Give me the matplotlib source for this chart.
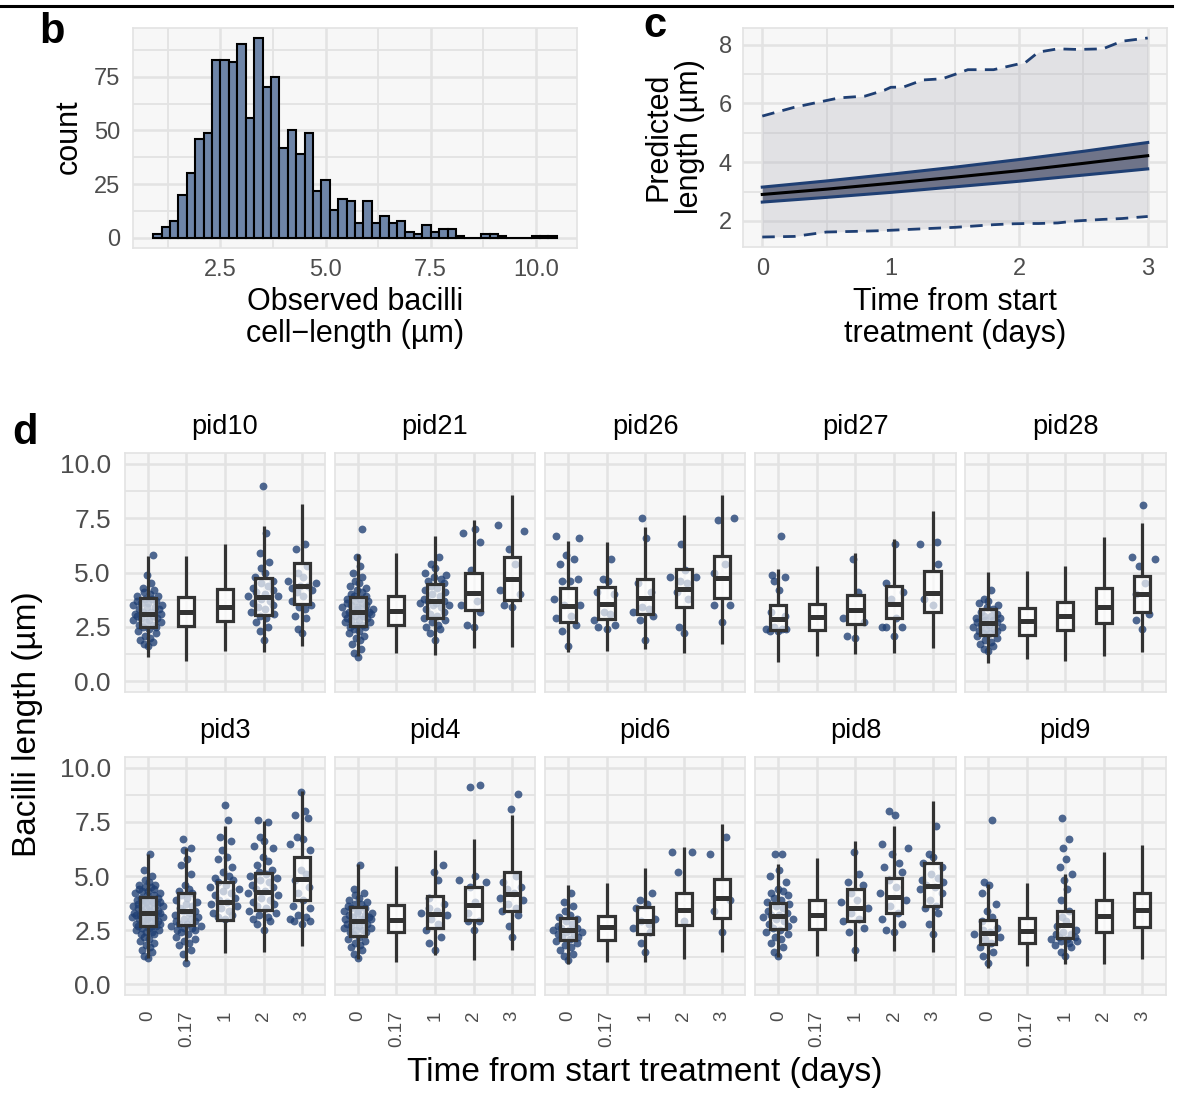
import numpy as np
import matplotlib
matplotlib.use("Agg")
import matplotlib.pyplot as plt
from matplotlib.lines import Line2D
from matplotlib.ticker import FixedLocator

plt.rcParams['font.family'] = ['Liberation Sans', 'DejaVu Sans']

# ---------------- panel b: histogram ----------------
hist_bin_start = 0.9
hist_bin_width = 0.2
hist_counts = [2, 5, 8, 20, 30, 46, 49, 83, 83, 82, 90, 56, 93, 70, 75, 42, 50, 39, 49, 22,
               27, 13, 18, 17, 7, 17, 7, 10, 7, 8, 3, 2, 6, 3, 4, 4, 1, 0, 0, 2,
               2, 1, 0, 0, 0, 1, 1, 1]

# ---------------- panel c: model prediction ----------------
time_fit = [0, 0.5, 1.0, 1.5, 2.0, 2.5, 3.0]
fit_mean = [2.90, 3.08, 3.28, 3.49, 3.71, 3.96, 4.22]
fit_ci_lo = [2.64, 2.80, 2.97, 3.16, 3.35, 3.56, 3.77]
fit_ci_hi = [3.15, 3.36, 3.59, 3.83, 4.09, 4.37, 4.67]
time_pi = [0, 0.25, 0.5, 0.6, 0.8, 0.95, 1.0, 1.1, 1.25, 1.4, 1.5, 1.6, 1.8, 1.95, 2.05,
           2.15, 2.3, 2.45, 2.65, 2.8, 3.0]
pi_hi = [5.57, 5.87, 6.10, 6.19, 6.25, 6.45, 6.55, 6.56, 6.80, 6.84, 6.99, 7.15, 7.15, 7.30,
         7.40, 7.75, 7.86, 7.84, 7.86, 8.12, 8.23]
pi_lo = [1.45, 1.47, 1.62, 1.63, 1.65, 1.67, 1.68, 1.70, 1.73, 1.76, 1.78, 1.81, 1.87, 1.90,
         1.91, 1.91, 1.93, 2.00, 2.05, 2.08, 2.15]

# ---------------- panel d: per-patient boxplots ----------------
time_labels = ["0", "0.17", "1", "2", "3"]
row1_pids = ["pid10", "pid21", "pid26", "pid27", "pid28"]
row2_pids = ["pid3", "pid4", "pid6", "pid8", "pid9"]

# (lower whisker, q1, median, q3, upper whisker) per time point
box_pid10 = [(1.09, 2.49, 3.10, 3.81, 5.78), (0.93, 2.52, 3.18, 3.87, 5.75), (1.39, 2.75, 3.41, 4.22, 6.31),
             (1.36, 3.06, 3.88, 4.76, 7.16), (1.62, 3.56, 4.39, 5.44, 8.17)]
box_pid21 = [(1.15, 2.54, 3.20, 3.88, 5.86), (1.30, 2.57, 3.23, 3.94, 5.90), (1.19, 2.92, 3.68, 4.45, 6.67),
             (1.54, 3.27, 4.04, 4.98, 7.40), (1.59, 3.73, 4.71, 5.70, 8.58)]
box_pid26 = [(1.36, 2.72, 3.46, 4.30, 6.44), (1.39, 2.84, 3.53, 4.33, 6.39), (1.47, 3.10, 3.84, 4.72, 7.08),
             (1.30, 3.42, 4.22, 5.15, 7.63), (1.70, 3.81, 4.76, 5.75, 8.58)]
box_pid27 = [(0.86, 2.34, 2.84, 3.49, 5.18), (1.16, 2.34, 2.95, 3.56, 5.29), (1.24, 2.61, 3.26, 3.96, 5.90),
             (1.31, 2.89, 3.56, 4.37, 6.56), (1.54, 3.20, 4.04, 5.09, 7.84)]
box_pid28 = [(0.82, 2.11, 2.69, 3.33, 5.02), (1.02, 2.14, 2.75, 3.38, 5.07), (0.94, 2.36, 3.00, 3.62, 5.30),
             (1.15, 2.69, 3.43, 4.28, 6.62), (1.35, 3.18, 3.99, 4.86, 7.28)]
box_pid3 = [(1.21, 2.67, 3.31, 4.03, 6.03), (1.09, 2.73, 3.36, 4.20, 6.30), (1.43, 2.96, 3.82, 4.72, 7.30),
            (1.47, 3.44, 4.28, 5.15, 7.56), (1.75, 3.90, 4.85, 5.87, 8.91)]
box_pid4 = [(1.17, 2.24, 2.93, 3.59, 5.54), (1.01, 2.39, 2.96, 3.67, 5.46), (1.37, 2.58, 3.24, 4.08, 6.20),
            (1.14, 2.96, 3.67, 4.49, 6.69), (1.60, 3.39, 4.16, 5.18, 7.81)]
box_pid6 = [(0.94, 2.04, 2.50, 3.08, 4.59), (1.01, 2.06, 2.62, 3.16, 4.69), (1.01, 2.32, 2.93, 3.59, 5.35),
            (1.17, 2.75, 3.44, 4.20, 6.33), (1.47, 3.08, 3.97, 4.88, 7.41)]
box_pid8 = [(1.24, 2.53, 3.16, 3.77, 5.57), (1.32, 2.55, 3.19, 3.88, 5.84), (1.09, 2.90, 3.54, 4.42, 6.61),
            (1.52, 3.27, 4.03, 4.92, 7.33), (1.47, 3.62, 4.54, 5.62, 8.45)]
box_pid9 = [(0.76, 1.84, 2.37, 2.97, 4.63), (0.85, 1.89, 2.47, 3.08, 4.69), (0.93, 2.14, 2.75, 3.37, 5.07),
            (0.93, 2.42, 3.13, 3.91, 6.10), (1.18, 2.64, 3.45, 4.21, 6.45)]

# observed bacilli lengths per time point
pts_pid10 = [
    [5.8, 4.9, 4.5, 4.3, 4.2, 4.1, 4.0, 3.9, 3.9, 3.8, 3.8, 3.7, 3.7, 3.6, 3.6, 3.5, 3.5, 3.4, 3.4, 3.3,
     3.3, 3.2, 3.2, 3.1, 3.1, 3.1, 3.0, 3.0, 2.9, 2.9, 2.8, 2.8, 2.7, 2.7, 2.6, 2.6, 2.5, 2.5, 2.4, 2.3,
     2.2, 2.1, 2.0, 1.9, 1.8, 1.7, 1.6],
    [], [],
    [9.0, 6.8, 5.9, 5.5, 5.2, 5.0, 4.8, 4.6, 4.5, 4.4, 4.3, 4.2, 4.1, 4.0, 3.9, 3.9, 3.8, 3.7, 3.6, 3.5,
     3.4, 3.3, 3.2, 3.1, 3.0, 2.9, 2.7, 2.5, 2.3, 1.9],
    [6.3, 6.1, 5.3, 5.0, 4.8, 4.6, 4.5, 4.4, 4.4, 4.3, 4.2, 4.1, 3.9, 3.7, 3.5, 3.4, 3.3, 3.0, 2.9, 2.4, 2.2]]
pts_pid21 = [
    [7.0, 5.7, 5.3, 5.0, 4.8, 4.6, 4.5, 4.4, 4.3, 4.2, 4.1, 4.0, 3.9, 3.9, 3.8, 3.8, 3.7, 3.7, 3.6, 3.6,
     3.5, 3.5, 3.4, 3.4, 3.3, 3.3, 3.3, 3.2, 3.2, 3.2, 3.1, 3.1, 3.1, 3.0, 3.0, 2.9, 2.9, 2.8, 2.8, 2.7,
     2.7, 2.6, 2.6, 2.5, 2.5, 2.4, 2.3, 2.2, 2.1, 2.0, 1.9, 1.7, 1.5, 1.3, 1.1],
    [],
    [5.7, 5.4, 5.2, 5.0, 4.9, 4.8, 4.7, 4.6, 4.5, 4.4, 4.3, 4.2, 4.1, 4.0, 3.9, 3.8, 3.7, 3.7, 3.6, 3.6,
     3.5, 3.5, 3.4, 3.3, 3.2, 3.1, 3.0, 2.9, 2.8, 2.7, 2.6, 2.5, 2.4, 2.2, 1.9],
    [7.0, 6.8, 6.4, 5.1, 3.7, 3.5, 3.2, 2.6, 2.5],
    [7.2, 6.9, 6.1, 5.4, 4.2, 4.0, 3.5, 3.4]]
pts_pid26 = [
    [6.7, 6.6, 5.8, 5.6, 5.4, 4.7, 4.6, 4.6, 3.8, 3.5, 3.5, 3.0, 2.9, 2.6, 2.3, 1.6],
    [5.6, 4.7, 4.6, 4.1, 4.0, 3.2, 3.1, 2.8, 2.6, 2.5, 2.4],
    [7.5, 6.6, 4.5, 4.1, 3.4, 3.3, 3.2, 3.0, 2.8, 1.9],
    [6.3, 5.1, 4.8, 4.8, 4.6, 4.5, 4.1, 3.8, 2.5, 2.2],
    [7.5, 7.4, 5.4, 5.0, 3.5, 3.5, 2.7]]
pts_pid27 = [
    [6.7, 4.9, 4.8, 4.6, 4.2, 3.2, 3.0, 2.5, 2.4, 2.4, 2.4, 2.3, 2.3],
    [],
    [5.6, 4.1, 2.9, 2.7, 2.1, 2.0],
    [6.3, 4.5, 4.1, 3.8, 2.9, 2.5, 2.5, 2.5, 2.1],
    [6.4, 6.3, 5.4, 3.8, 3.5]]
pts_pid28 = [
    [4.2, 3.8, 3.7, 3.6, 3.5, 3.4, 3.3, 3.2, 3.1, 3.0, 3.0, 2.9, 2.9, 2.8, 2.8, 2.7, 2.7, 2.6, 2.6, 2.5,
     2.5, 2.4, 2.4, 2.3, 2.3, 2.2, 2.2, 2.1, 2.0, 1.9, 1.8, 1.7, 1.6, 1.5, 1.4],
    [], [], [],
    [8.1, 5.7, 5.6, 5.3, 4.5, 4.0, 3.1, 2.8, 2.4]]
pts_pid3 = [
    [6.0, 5.3, 5.0, 4.8, 4.7, 4.6, 4.6, 4.5, 4.5, 4.4, 4.4, 4.3, 4.3, 4.2, 4.2, 4.1, 4.1, 4.0, 4.0, 3.9,
     3.9, 3.9, 3.8, 3.8, 3.8, 3.7, 3.7, 3.7, 3.6, 3.6, 3.6, 3.5, 3.5, 3.5, 3.4, 3.4, 3.4, 3.3, 3.3, 3.3,
     3.3, 3.2, 3.2, 3.2, 3.1, 3.1, 3.1, 3.0, 3.0, 3.0, 2.9, 2.9, 2.9, 2.8, 2.8, 2.8, 2.7, 2.7, 2.7, 2.6,
     2.6, 2.5, 2.5, 2.4, 2.4, 2.3, 2.3, 2.2, 2.1, 2.0, 1.9, 1.8, 1.7, 1.6, 1.5, 1.3, 1.2],
    [6.7, 6.3, 6.2, 5.8, 5.5, 5.1, 4.6, 4.4, 4.3, 4.2, 4.1, 4.0, 3.9, 3.8, 3.7, 3.6, 3.5, 3.4, 3.4, 3.3,
     3.2, 3.1, 3.0, 3.0, 2.9, 2.9, 2.8, 2.8, 2.7, 2.7, 2.6, 2.6, 2.5, 2.5, 2.4, 2.3, 2.2, 2.1, 2.0, 1.9,
     1.8, 1.6, 1.4, 1.0],
    [8.3, 7.6, 6.8, 6.6, 6.2, 5.9, 5.8, 5.4, 5.2, 5.0, 4.9, 4.8, 4.7, 4.6, 4.5, 4.4, 4.3, 4.2, 4.1, 4.0,
     3.9, 3.8, 3.7, 3.6, 3.5, 3.4, 3.3, 3.2, 3.1, 3.0],
    [7.6, 7.5, 6.8, 6.6, 6.4, 6.3, 5.9, 5.7, 5.5, 5.3, 5.2, 5.1, 5.0, 4.9, 4.8, 4.7, 4.6, 4.5, 4.4, 4.3,
     4.2, 4.1, 4.0, 3.9, 3.8, 3.7, 3.6, 3.5, 3.4, 3.3, 3.2, 3.1, 3.0, 2.9, 2.8, 2.5],
    [8.9, 8.0, 7.8, 7.7, 6.8, 6.7, 6.5, 6.2, 5.3, 5.1, 4.8, 4.5, 4.2, 3.9, 3.6, 3.5, 3.2, 3.1, 3.0, 2.9,
     2.9, 2.8]]
pts_pid4 = [
    [5.5, 4.4, 4.2, 4.1, 4.0, 3.9, 3.8, 3.7, 3.7, 3.6, 3.5, 3.5, 3.4, 3.4, 3.3, 3.3, 3.2, 3.2, 3.1, 3.1,
     3.0, 3.0, 3.0, 2.9, 2.9, 2.8, 2.8, 2.7, 2.7, 2.6, 2.6, 2.5, 2.5, 2.4, 2.4, 2.3, 2.2, 2.1, 2.0, 1.9,
     1.8, 1.7, 1.6, 1.4, 1.2],
    [],
    [5.5, 5.2, 4.8, 4.0, 3.7, 3.5, 3.4, 3.3, 3.2, 3.0, 2.8, 2.5, 2.2, 1.9, 1.6],
    [9.2, 9.1, 5.0, 4.8, 4.7, 4.5, 3.8, 3.3, 2.9, 2.9, 2.5],
    [8.8, 8.1, 5.0, 4.7, 4.5, 4.4, 4.2, 4.0, 3.9, 3.7, 3.5, 3.4, 3.2, 2.7, 2.2]]
pts_pid6 = [
    [4.2, 3.8, 3.6, 3.4, 3.2, 3.1, 3.0, 2.9, 2.8, 2.7, 2.6, 2.6, 2.5, 2.5, 2.4, 2.4, 2.3, 2.3, 2.2, 2.2,
     2.1, 2.0, 1.9, 1.8, 1.7, 1.6, 1.4, 1.3, 1.1],
    [],
    [4.2, 3.9, 3.7, 3.5, 3.0, 2.9, 2.8, 2.6, 2.4, 1.9, 1.5],
    [6.1, 6.1, 5.2, 2.9],
    [6.8, 6.0, 3.9, 3.4, 2.4]]
pts_pid8 = [
    [6.0, 6.0, 5.3, 5.0, 4.7, 4.4, 4.3, 4.2, 4.1, 4.0, 3.9, 3.8, 3.7, 3.6, 3.5, 3.4, 3.3, 3.2, 3.2, 3.1,
     3.0, 3.0, 2.9, 2.8, 2.7, 2.6, 2.5, 2.4, 2.3, 2.2, 2.1, 1.9, 1.7, 1.5, 1.3],
    [],
    [6.1, 5.1, 4.7, 4.6, 4.2, 3.9, 3.8, 3.5, 3.3, 3.0, 2.9, 2.6, 2.4, 1.6],
    [8.0, 7.8, 6.5, 6.3, 6.0, 5.6, 5.4, 5.2, 4.8, 4.5, 4.2, 3.9, 3.6, 3.3, 3.0, 2.8, 2.5, 2.4],
    [7.3, 6.0, 5.9, 5.6, 5.4, 5.1, 4.9, 4.8, 4.7, 4.6, 4.5, 4.4, 4.2, 3.9, 3.6, 3.5, 3.3, 2.8, 2.3]]
pts_pid9 = [
    [7.6, 4.7, 4.6, 4.2, 3.7, 3.4, 3.1, 2.9, 2.6, 2.5, 2.4, 2.3, 2.2, 2.1, 1.9, 1.7, 1.5, 1.3, 1.0],
    [],
    [7.7, 6.7, 6.3, 5.8, 5.4, 5.1, 4.8, 4.4, 3.9, 3.4, 3.1, 2.9, 2.7, 2.5, 2.4, 2.3, 2.3, 2.2, 2.2, 2.1,
     2.1, 2.0, 2.0, 1.9, 1.8, 1.7, 1.5, 1.3],
    [], []]

boxes = {"pid10": box_pid10, "pid21": box_pid21, "pid26": box_pid26, "pid27": box_pid27,
         "pid28": box_pid28, "pid3": box_pid3, "pid4": box_pid4, "pid6": box_pid6,
         "pid8": box_pid8, "pid9": box_pid9}
points = {"pid10": pts_pid10, "pid21": pts_pid21, "pid26": pts_pid26, "pid27": pts_pid27,
          "pid28": pts_pid28, "pid3": pts_pid3, "pid4": pts_pid4, "pid6": pts_pid6,
          "pid8": pts_pid8, "pid9": pts_pid9}

# ---------------- styling ----------------
W, H = 1179, 1093
fig = plt.figure(figsize=(W / 100, H / 100), dpi=100)
PANEL_BG = '#F7F7F7'
GRID = '#E3E3E3'
TICK_C = '#4D4D4D'
NAVY = '#1F3F73'


def add_ax(l, t, r, b):
    return fig.add_axes([l / W, 1 - b / H, (r - l) / W, (b - t) / H])


def style(ax):
    ax.set_facecolor(PANEL_BG)
    ax.grid(which='major', color=GRID, lw=1.8)
    ax.grid(which='minor', color=GRID, lw=1.3)
    ax.set_axisbelow(True)
    for s in ax.spines.values():
        s.set_color(GRID)
        s.set_linewidth(1.2)
    ax.tick_params(which='both', length=0, colors=TICK_C)


# top rule
fig.add_artist(Line2D([0, 1172 / W], [1 - 5.5 / H] * 2, color='black', lw=2.2))

# ---- panel b ----
axb = add_ax(133, 28, 577, 248)
style(axb)
edges = hist_bin_start + hist_bin_width * np.arange(len(hist_counts) + 1)
axb.bar(edges[:-1], hist_counts, width=hist_bin_width, align='edge',
        color='#6E85A8', edgecolor='black', linewidth=1.5, zorder=2)
axb.set_xlim(0.42, 10.98)
axb.set_ylim(-4.65, 97.65)
axb.xaxis.set_major_locator(FixedLocator([2.5, 5.0, 7.5, 10.0]))
axb.xaxis.set_minor_locator(FixedLocator([1.25, 3.75, 6.25, 8.75]))
axb.yaxis.set_major_locator(FixedLocator([0, 25, 50, 75]))
axb.yaxis.set_minor_locator(FixedLocator([12.5, 37.5, 62.5, 87.5]))
axb.set_xticklabels(["2.5", "5.0", "7.5", "10.0"])
axb.set_yticklabels(["0", "25", "50", "75"])
axb.tick_params(axis='both', labelsize=17)
axb.tick_params(axis='x', pad=8)
axb.tick_params(axis='y', pad=9)

fig.text(69 / W, 1 - 137 / H, "count", rotation=90, ha='center', va='center', fontsize=22)
fig.text(355 / W, 1 - 318 / H, "Observed bacilli\ncell\u2212length (\u00b5m)", ha='center',
         va='center', fontsize=22, linespacing=1.08)
fig.text(52 / W, 1 - 43 / H, "b", fontsize=30, fontweight='bold', ha='center', va='baseline')

# ---- panel c ----
axc = add_ax(743, 28, 1167, 247)
style(axc)
axc.fill_between(time_pi, pi_lo, pi_hi, color='#B4B4BE', alpha=0.32, lw=0, zorder=2)
axc.plot(time_pi, pi_hi, color=NAVY, lw=2.0, dashes=(4.5, 3), zorder=4)
axc.plot(time_pi, pi_lo, color=NAVY, lw=2.0, dashes=(4.5, 3), zorder=4)
axc.fill_between(time_fit, fit_ci_lo, fit_ci_hi, color='#6F7489', lw=0, zorder=3)
axc.plot(time_fit, fit_ci_hi, color=NAVY, lw=2.2, zorder=4)
axc.plot(time_fit, fit_ci_lo, color=NAVY, lw=2.2, zorder=4)
axc.plot(time_fit, fit_mean, color='black', lw=2.2, zorder=5)
axc.set_xlim(-0.15, 3.15)
axc.set_ylim(1.11, 8.57)
axc.xaxis.set_major_locator(FixedLocator([0, 1, 2, 3]))
axc.xaxis.set_minor_locator(FixedLocator([0.5, 1.5, 2.5]))
axc.yaxis.set_major_locator(FixedLocator([2, 4, 6, 8]))
axc.yaxis.set_minor_locator(FixedLocator([3, 5, 7]))
axc.set_xticklabels(["0", "1", "2", "3"])
axc.set_yticklabels(["2", "4", "6", "8"])
axc.tick_params(axis='both', labelsize=17)
axc.tick_params(axis='x', pad=8)
axc.tick_params(axis='y', pad=8)
fig.text(674 / W, 1 - 137 / H, "Predicted\nlength (\u00b5m)", rotation=90, ha='center',
         va='center', fontsize=22, linespacing=1.08)
fig.text(955 / W, 1 - 318 / H, "Time from start\ntreatment (days)", ha='center',
         va='center', fontsize=22, linespacing=1.08)
fig.text(655 / W, 1 - 37 / H, "c", fontsize=30, fontweight='bold', ha='center', va='baseline')


# ---- panel d ----
def vdc(k):
    v, denom = 0.0, 1.0
    while k:
        denom *= 2.0
        v += (k % 2) / denom
        k //= 2
    return v


def swarm_offsets(vals, width=0.42, bw=0.35):
    v = np.asarray(vals, float)
    n = len(v)
    if n == 0:
        return np.array([])
    dens = np.array([np.sum(np.abs(v - x) <= bw) for x in v], float)
    dens = dens / dens.max()
    order = np.argsort(v, kind='stable')
    off = np.empty(n)
    for rank, idx in enumerate(order):
        off[idx] = (2 * vdc(rank + 1) - 1) * width * (0.3 + 0.7 * dens[idx])
    return off


col_left = [124.7, 334.7, 544.9, 755.2, 965.0]
col_w = 200.5
rows = [(453, 692, row1_pids), (757, 995, row2_pids)]
positions = [1, 2, 3, 4, 5]

for ri, (top, bot, pids) in enumerate(rows):
    for ci, pid in enumerate(pids):
        ax = add_ax(col_left[ci], top, col_left[ci] + col_w, bot)
        style(ax)
        for pos, vals in zip(positions, points[pid]):
            if len(vals) == 0:
                continue
            xs = pos + swarm_offsets(vals)
            ax.scatter(xs, vals, s=32, color=NAVY, alpha=0.78, linewidths=0, zorder=2)
        stats = [dict(whislo=b[0], q1=b[1], med=b[2], q3=b[3], whishi=b[4]) for b in boxes[pid]]
        ax.bxp(stats, positions=positions, widths=0.42, showfliers=False, showcaps=False,
               patch_artist=True, manage_ticks=False,
               boxprops=dict(facecolor=(1, 1, 1, 0.68), edgecolor='#333333', linewidth=2.3),
               whiskerprops=dict(color='#333333', linewidth=2.3, solid_capstyle='butt'),
               medianprops=dict(color='#333333', linewidth=3.6, solid_capstyle='butt'),
               zorder=3)
        ax.set_xlim(0.4, 5.6)
        ax.set_ylim(-0.5, 10.5)
        ax.xaxis.set_major_locator(FixedLocator(positions))
        ax.yaxis.set_major_locator(FixedLocator([0, 2.5, 5, 7.5, 10]))
        ax.yaxis.set_minor_locator(FixedLocator([1.25, 3.75, 6.25, 8.75]))
        ax.set_xticklabels(time_labels, rotation=90, ha='center', va='top')
        ax.set_yticklabels(["0.0", "2.5", "5.0", "7.5", "10.0"])
        ax.tick_params(axis='y', labelsize=19, pad=10)
        ax.tick_params(axis='x', labelsize=13.5, pad=11)
        if ci != 0:
            ax.tick_params(axis='y', labelleft=False)
        if ri == 0:
            ax.tick_params(axis='x', labelbottom=False)
        fig.text((col_left[ci] + col_w / 2) / W, 1 - (top - 26) / H, pid, ha='center',
                 va='center', fontsize=19.5)

fig.text(28 / W, 1 - 724 / H, "Bacilli length (\u00b5m)", rotation=90, ha='center', va='center',
         fontsize=24)
fig.text(645 / W, 1 - 1073 / H, "Time from start treatment (days)", ha='center', va='center',
         fontsize=24)
fig.text(25 / W, 1 - 444 / H, "d", fontsize=30, fontweight='bold', ha='center', va='baseline')

fig.savefig("out.png", dpi=100)
